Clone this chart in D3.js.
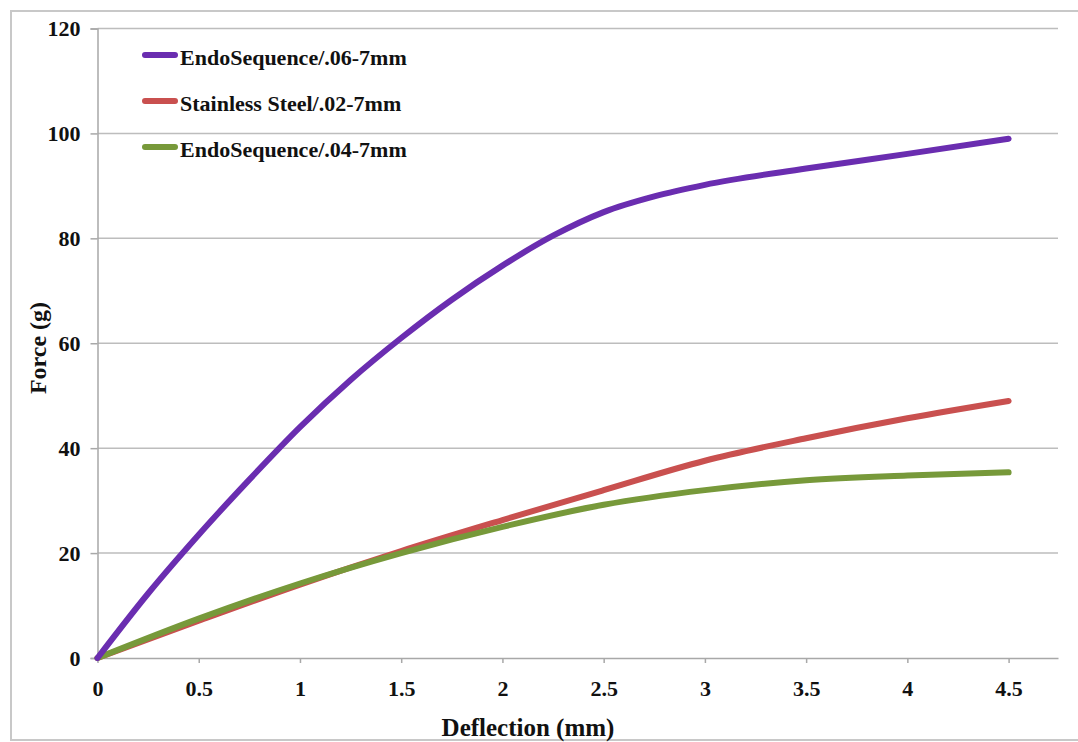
<!DOCTYPE html>
<html><head><meta charset="utf-8">
<script src="https://cdn.jsdelivr.net/npm/d3@7/dist/d3.min.js"></script>
<style>body{margin:0;background:#fff}svg{display:block}</style>
</head><body>
<svg id="chart" width="1078" height="742"></svg>
<script>
const seriesNames = ["EndoSequence/.06-7mm", "Stainless Steel/.02-7mm", "EndoSequence/.04-7mm"];
const seriesColors = ["#6a2db0", "#c9504f", "#77993a"];
const purpleX = [0, 0.25, 0.5, 0.75, 1, 1.25, 1.5, 1.75, 2, 2.25, 2.5, 2.75, 3, 3.5, 4, 4.5];
const purpleY = [0, 12.3, 23.5, 34, 44, 53, 61, 68.3, 74.8, 80.5, 85, 88, 90.2, 93.3, 96.1, 99];
const redX = [0, 0.5, 1, 1.5, 2, 2.5, 3, 3.5, 4, 4.5];
const redY = [0, 7.1, 14, 20.4, 26.3, 32, 37.6, 41.9, 45.7, 49];
const greenX = [0, 0.5, 1, 1.5, 2, 2.5, 3, 3.5, 4, 4.5];
const greenY = [0, 7.5, 14.2, 20, 25, 29.2, 32, 33.9, 34.8, 35.4];
const xTicks = [0, 0.5, 1, 1.5, 2, 2.5, 3, 3.5, 4, 4.5];
const yTicks = [0, 20, 40, 60, 80, 100, 120];
const xTitle = "Deflection (mm)";
const yTitle = "Force (g)";

(function () {
const svg = d3.select("#chart");
const font = "'Liberation Serif','Times New Roman',serif";
const mL = 97.5, mR = 1058, mT = 28.5, mB = 658;
const x = d3.scaleLinear().domain([0, 4.744]).range([mL, mR]);
const y = d3.scaleLinear().domain([0, 120]).range([mB, mT]);

svg.append("rect").attr("x", 11).attr("y", 11).attr("width", 1090).attr("height", 729)
  .attr("fill", "none").attr("stroke", "#c8c8c8").attr("stroke-width", 2);

svg.append("g").selectAll("line").data(yTicks.filter(d => d > 0)).join("line")
  .attr("x1", mL).attr("x2", mR).attr("y1", d => y(d)).attr("y2", d => y(d))
  .attr("stroke", "#bdbdbd").attr("stroke-width", 1.5);

const yAxis = svg.append("g").attr("transform", `translate(${mL},0)`)
  .call(d3.axisLeft(y).tickValues(yTicks).tickSize(7).tickPadding(10).tickFormat(d3.format("d")));
yAxis.select(".domain").attr("stroke", "#a8a8a8").attr("stroke-width", 1.5);
yAxis.selectAll(".tick line").attr("stroke", "#a8a8a8").attr("stroke-width", 1.5);
yAxis.selectAll("text").attr("font-family", font).attr("font-weight", "bold")
  .attr("font-size", 22).attr("fill", "#111");

const xAxis = svg.append("g").attr("transform", `translate(0,${mB})`)
  .call(d3.axisBottom(x).tickValues(xTicks).tickSize(5).tickPadding(17).tickSizeOuter(0)
  .tickFormat(d => String(d)));
xAxis.select(".domain").attr("stroke", "#a8a8a8").attr("stroke-width", 1.5);
xAxis.selectAll(".tick line").attr("stroke", "#a8a8a8").attr("stroke-width", 1.5);
xAxis.selectAll("text").attr("font-family", font).attr("font-weight", "bold")
  .attr("font-size", 22).attr("fill", "#111");

svg.append("text").attr("x", 528).attr("y", 736).attr("text-anchor", "middle")
  .attr("font-family", font).attr("font-weight", "bold").attr("font-size", 25)
  .attr("fill", "#111").text(xTitle);
svg.append("text").attr("transform", "translate(46,348) rotate(-90)").attr("text-anchor", "middle")
  .attr("font-family", font).attr("font-weight", "bold").attr("font-size", 24)
  .attr("fill", "#111").text(yTitle);

const series = [
  purpleX.map((d, i) => [d, purpleY[i]]),
  redX.map((d, i) => [d, redY[i]]),
  greenX.map((d, i) => [d, greenY[i]])
];
const line = d3.line().x(d => x(d[0])).y(d => y(d[1])).curve(d3.curveMonotoneX);
[1, 2, 0].forEach(i => {
  svg.append("path").attr("d", line(series[i])).attr("fill", "none")
    .attr("stroke", seriesColors[i]).attr("stroke-width", 6)
    .attr("stroke-linecap", "round").attr("stroke-linejoin", "round");
});

const legLineY = [55, 101, 147];
seriesNames.forEach((n, i) => {
  svg.append("line").attr("x1", 145).attr("x2", 175).attr("y1", legLineY[i]).attr("y2", legLineY[i])
    .attr("stroke", seriesColors[i]).attr("stroke-width", 6).attr("stroke-linecap", "round");
  svg.append("text").attr("x", 180).attr("y", legLineY[i] + 10).attr("font-family", font)
    .attr("font-weight", "bold").attr("font-size", 22).attr("fill", "#111").text(n);
});
})();
</script>
</body></html>
